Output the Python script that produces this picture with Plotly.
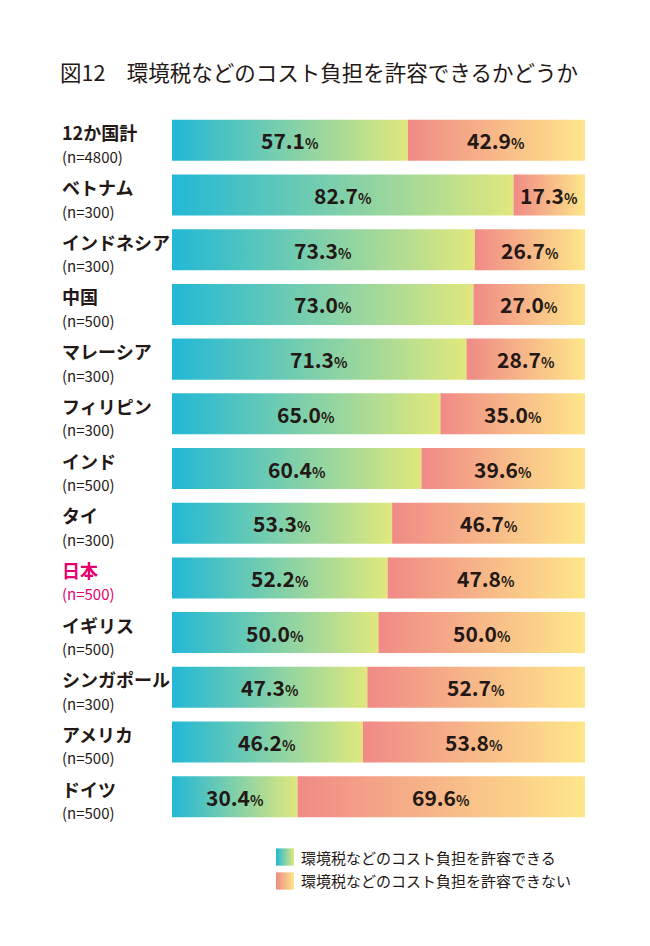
import plotly.graph_objects as go

countries = ["12か国計", "ベトナム", "インドネシア", "中国", "マレーシア", "フィリピン",
             "インド", "タイ", "日本", "イギリス", "シンガポール", "アメリカ", "ドイツ"]
samples = ["(n=4800)", "(n=300)", "(n=300)", "(n=500)", "(n=300)", "(n=300)",
           "(n=500)", "(n=300)", "(n=500)", "(n=500)", "(n=300)", "(n=500)", "(n=500)"]
accept = [57.1, 82.7, 73.3, 73.0, 71.3, 65.0, 60.4, 53.3, 52.2, 50.0, 47.3, 46.2, 30.4]
reject = [42.9, 17.3, 26.7, 27.0, 28.7, 35.0, 39.6, 46.7, 47.8, 50.0, 52.7, 53.8, 69.6]
series_names = ["環境税などのコスト負担を許容できる", "環境税などのコスト負担を許容できない"]
title_text = "図12　環境税などのコスト負担を許容できるかどうか"

scale_accept = [[0, "#22b8d6"], [1, "#e0e87c"]]
scale_reject = [[0, "#f08a86"], [1, "#fee68a"]]
scales = [scale_accept, scale_reject]
BAR_W = 0.75
SW = 0.36
FONT = "Noto Sans CJK JP"
TXT = "#231815"


def rect(x0, x1, y0, y1):
    return [x0, x1, x1, x0, x0], [y0, y0, y1, y1, y0]


fig = go.Figure()
for i in range(len(countries)):
    segs = [(0, accept[i], scale_accept, accept[i]),
            (accept[i], accept[i] + reject[i], scale_reject, reject[i])]
    for x0, x1, cs, val in segs:
        xs, ys = rect(x0, x1, i - BAR_W / 2, i + BAR_W / 2)
        fig.add_trace(go.Scatter(
            x=xs, y=ys, mode="lines", line=dict(width=0), fill="toself",
            fillgradient=dict(type="horizontal", colorscale=cs),
            showlegend=False, hoverinfo="skip"))
        fig.add_annotation(
            x=(x0 + x1) / 2, y=i, xref="x", yref="y", showarrow=False,
            text=f"<b>{val:.1f}</b><span style='font-size:14px'><b>%</b></span>",
            font=dict(family=FONT, size=21, color=TXT))
    color = "#e5006e" if countries[i] == "日本" else TXT
    fig.add_annotation(x=-0.271, y=i, xref="paper", yref="y", xanchor="left",
                       showarrow=False, yshift=8,
                       text=f"<b>{countries[i]}</b>",
                       font=dict(family=FONT, size=18, color=color))
    fig.add_annotation(x=-0.271, y=i, xref="paper", yref="y", xanchor="left",
                       showarrow=False, yshift=-16, text=samples[i],
                       font=dict(family=FONT, size=15, color=color))

# legend built on its own small axes
for j, nm in enumerate(series_names):
    xs, ys = rect(0, 1, j - SW, j + SW)
    fig.add_trace(go.Scatter(
        x=xs, y=ys, xaxis="x2", yaxis="y2", mode="lines", line=dict(width=0),
        fill="toself", fillgradient=dict(type="horizontal", colorscale=scales[j]),
        showlegend=False, hoverinfo="skip"))
    fig.add_annotation(x=0.3075, y=j, xref="paper", yref="y2", xanchor="left",
                       showarrow=False, text=nm,
                       font=dict(family=FONT, size=15, color=TXT))

fig.update_layout(
    width=650, height=946,
    margin=dict(l=172, r=65, t=113, b=40),
    paper_bgcolor="white", plot_bgcolor="white",
    title=dict(text=title_text, x=60 / 650, xanchor="left", y=1 - 73 / 946,
               yanchor="middle", font=dict(family=FONT, size=21.5, color=TXT)),
    xaxis=dict(range=[0, 100], visible=False, fixedrange=True),
    yaxis=dict(range=[len(countries) - 0.5, -0.5], domain=[0.1034, 1],
               visible=False, fixedrange=True),
    xaxis2=dict(range=[0, 1], domain=[0.2518, 0.2954], visible=False,
                fixedrange=True, anchor="y2"),
    yaxis2=dict(range=[1.5, -0.5], domain=[0.0164, 0.0769], visible=False,
                fixedrange=True, anchor="x2"),
    showlegend=False,
)

fig.write_html("out.html", config={"displayModeBar": False},
               post_script="document.body.style.margin='0';")
